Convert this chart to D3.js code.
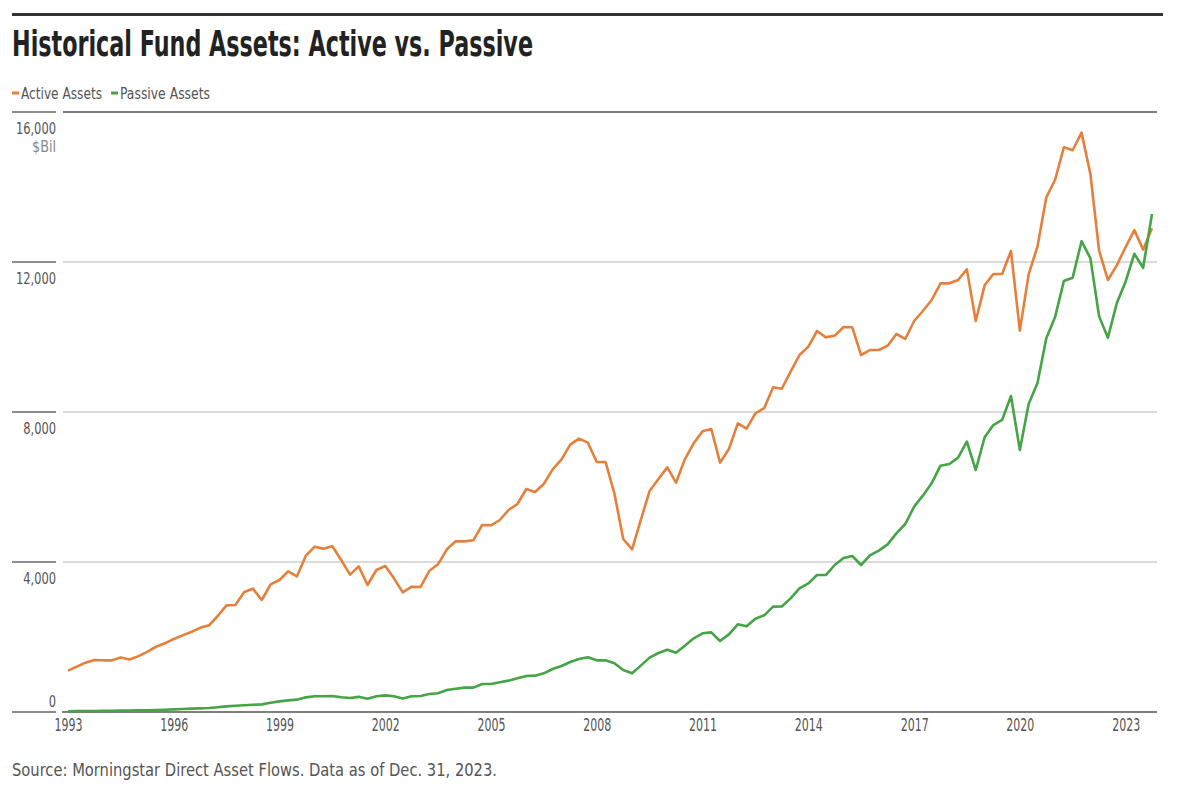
<!DOCTYPE html>
<html>
<head>
<meta charset="utf-8">
<script src="https://cdn.jsdelivr.net/npm/d3@7"></script>
<style>
  html, body { margin: 0; padding: 0; background: #fff; }
  svg { display: block; }
  .cond { font-family: "Liberation Sans Narrow", "DejaVu Sans Condensed", "Roboto Condensed", "Liberation Sans", sans-serif; }
</style>
</head>
<body>
<svg id="chart" width="1200" height="797"></svg>
<script>
// ---- Data (quarterly, 1993 Q1 .. 2023 Q4), $ billions ----
const startYear = 1993;
const seriesNames = ["Active Assets", "Passive Assets"];
const seriesColors = ["#e5803c", "#44a446"];

const activeAssets = [
  1102, 1209, 1316, 1387, 1378, 1378, 1455, 1400, 1490, 1605, 1740, 1831,
  1947, 2044, 2133, 2245, 2310, 2560, 2844, 2853, 3200, 3289, 2987, 3404,
  3520, 3751, 3618, 4169, 4409, 4356, 4418, 4053, 3662, 3884, 3387, 3787,
  3893, 3564, 3191, 3342, 3333, 3760, 3938, 4338, 4551, 4551, 4578, 4987,
  4978, 5120, 5387, 5547, 5947, 5867, 6080, 6471, 6738, 7129, 7289, 7182,
  6667, 6667, 5831, 4613, 4338, 5120, 5893, 6213, 6524, 6116, 6738, 7164,
  7484, 7547, 6649, 7013, 7698, 7556, 7964, 8107, 8658, 8620, 9075, 9520,
  9742, 10160, 9991, 10036, 10267, 10258, 9520, 9653, 9653, 9769, 10080, 9947,
  10427, 10693, 10987, 11431, 11431, 11520, 11804, 10427, 11378, 11680, 11680, 12293,
  10169, 11671, 12409, 13724, 14200, 15060, 14980, 15450, 14340, 12300, 11520, 11911,
  12400, 12850, 12330, 12900
];

const passiveAssets = [
  22, 24, 26, 28, 31, 33, 36, 39, 43, 48, 54, 61,
  70, 79, 89, 97, 107, 125, 151, 165, 178, 192, 204, 245,
  284, 310, 329, 391, 418, 422, 427, 395, 373, 404, 356, 418,
  444, 418, 360, 420, 427, 480, 500, 587, 622, 649, 649, 747,
  747, 791, 836, 898, 960, 969, 1031, 1147, 1227, 1333, 1413, 1458,
  1378, 1378, 1298, 1120, 1031, 1236, 1449, 1573, 1662, 1582, 1769, 1964,
  2098, 2124, 1893, 2071, 2338, 2284, 2489, 2578, 2809, 2815, 3030, 3298,
  3431, 3653, 3653, 3920, 4107, 4160, 3920, 4178, 4302, 4471, 4764, 5013,
  5476, 5769, 6098, 6569, 6613, 6782, 7209, 6453, 7324, 7653, 7787, 8427,
  6987, 8213, 8764, 9964, 10542, 11493, 11582, 12555, 12098, 10550, 9980, 10898,
  11480, 12220, 11845, 13280
];

const yTicks = [0, 4000, 8000, 12000, 16000];
const xTickYears = [1993, 1996, 1999, 2002, 2005, 2008, 2011, 2014, 2017, 2020, 2023];

const titleText = "Historical Fund Assets: Active vs. Passive";
const unitText = "$Bil";
const sourceText = "Source: Morningstar Direct Asset Flows. Data as of Dec. 31, 2023.";

// ---- Build dated records ----
const quarterDate = i => new Date(startYear + Math.floor(i / 4), (i % 4) * 3, 1);
const seriesData = [activeAssets, passiveAssets].map(arr =>
  arr.map((v, i) => ({ date: quarterDate(i), value: v }))
);

// ---- Layout ----
const svg = d3.select("#chart");
const FONT = '"Liberation Sans Narrow", "DejaVu Sans Condensed", "Roboto Condensed", "Liberation Sans", sans-serif';
const numWidth = s => s.split("").reduce((w, c) => w + (c === "," ? 3.6 : 7.3), 0);

const x = d3.scaleTime()
  .domain([quarterDate(0), quarterDate(activeAssets.length - 1)])
  .range([68, 1152]);
const y = d3.scaleLinear().domain([0, 16000]).range([712, 112]);

// Top rule
svg.append("line").attr("x1", 12).attr("x2", 1163).attr("y1", 14.5).attr("y2", 14.5)
  .attr("stroke", "#333").attr("stroke-width", 3);

// Title
svg.append("text").attr("class", "cond")
  .attr("x", 12).attr("y", 56)
  .attr("font-size", 35).attr("font-weight", "bold").attr("fill", "#222")
  .attr("textLength", 521).attr("lengthAdjust", "spacingAndGlyphs")
  .text(titleText);

// Legend
const legendPos = [{ mx: 12, tx: 21, tw: 81 }, { mx: 111, tx: 120, tw: 90 }];
seriesNames.forEach((name, k) => {
  const p = legendPos[k];
  svg.append("line").attr("x1", p.mx).attr("x2", p.mx + 7).attr("y1", 93).attr("y2", 93)
    .attr("stroke", seriesColors[k]).attr("stroke-width", 3);
  svg.append("text").attr("class", "cond")
    .attr("x", p.tx).attr("y", 99)
    .attr("font-size", 15).attr("fill", "#555")
    .attr("textLength", p.tw).attr("lengthAdjust", "spacingAndGlyphs")
    .text(name);
});

// Gridlines
const grid = svg.append("g");
yTicks.forEach(t => {
  const yy = y(t);
  grid.append("line").attr("x1", 12).attr("x2", 56).attr("y1", yy).attr("y2", yy)
    .attr("stroke", "#666").attr("stroke-width", 1.5);
  const dark = (t === 0 || t === 16000);
  grid.append("line").attr("x1", t === 0 ? 62 : 63).attr("x2", 1157).attr("y1", yy).attr("y2", yy)
    .attr("stroke", dark ? "#555" : "#cfcfcf").attr("stroke-width", 1.5);
});

// Y axis labels via d3 axis
const yAxis = d3.axisLeft(y).tickValues(yTicks).tickSize(0).tickPadding(0)
  .tickFormat(d3.format(","));
const yg = svg.append("g").attr("transform", "translate(56,0)").call(yAxis);
yg.select(".domain").remove();
yg.selectAll("text")
  .attr("font-family", FONT).attr("font-size", 16.5).attr("fill", "#555")
  .attr("dy", null)
  .attr("y", d => d === 0 ? -6 : 21)
  .attr("textLength", d => numWidth(d3.format(",")(d)))
  .attr("lengthAdjust", "spacingAndGlyphs");
// unit label
svg.append("text").attr("class", "cond")
  .attr("x", 56).attr("y", y(16000) + 40).attr("text-anchor", "end")
  .attr("font-size", 15.5).attr("fill", "#888")
  .attr("textLength", 24).attr("lengthAdjust", "spacingAndGlyphs")
  .text(unitText);

// X axis labels via d3 axis
const xAxis = d3.axisBottom(x)
  .tickValues(xTickYears.map(yr => new Date(yr, 0, 1)))
  .tickSize(0).tickPadding(0).tickFormat(d3.timeFormat("%Y"));
const xg = svg.append("g").attr("transform", "translate(0,712)").call(xAxis);
xg.select(".domain").remove();
xg.selectAll("text")
  .attr("font-family", FONT).attr("font-size", 17).attr("fill", "#555")
  .attr("dy", null).attr("y", 18.5)
  .attr("textLength", 28).attr("lengthAdjust", "spacingAndGlyphs");

// Lines
const line = d3.line().x(d => x(d.date)).y(d => y(d.value));
seriesData.forEach((data, k) => {
  svg.append("path").datum(data)
    .attr("fill", "none").attr("stroke", seriesColors[k])
    .attr("stroke-width", 2.6).attr("stroke-linejoin", "round")
    .attr("d", line);
});

// Source
svg.append("text").attr("class", "cond")
  .attr("x", 12).attr("y", 776)
  .attr("font-size", 18).attr("fill", "#555")
  .attr("textLength", 485).attr("lengthAdjust", "spacingAndGlyphs")
  .text(sourceText);
</script>
</body>
</html>
